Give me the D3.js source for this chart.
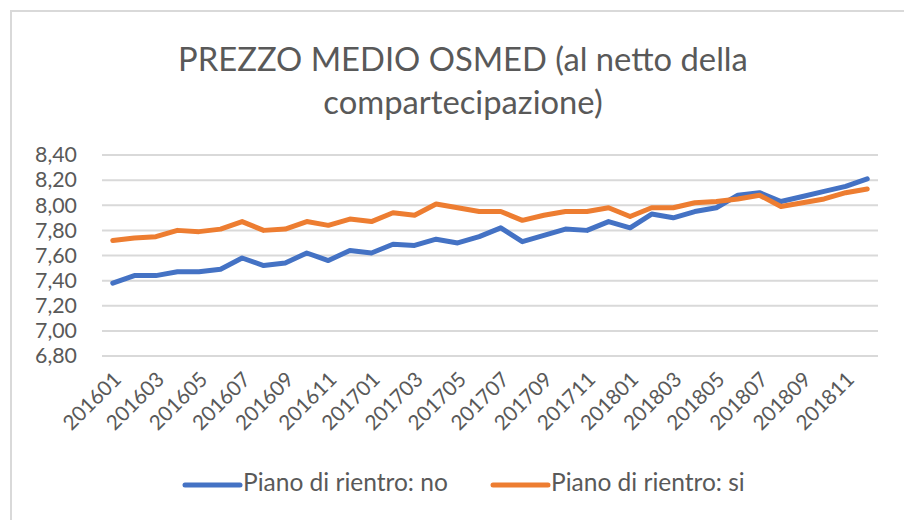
<!DOCTYPE html>
<html>
<head>
<meta charset="utf-8">
<script src="https://cdn.jsdelivr.net/npm/d3@7"></script>
<style>
  html, body { margin: 0; padding: 0; background: #fff; }
  svg { display: block; }
  text { font-family: Lato, "Open Sans", sans-serif; fill: #595959; }
</style>
</head>
<body>
<svg id="chart" width="904" height="520"></svg>
<script>
const months = [
  "201601","201602","201603","201604","201605","201606","201607","201608","201609","201610","201611","201612",
  "201701","201702","201703","201704","201705","201706","201707","201708","201709","201710","201711","201712",
  "201801","201802","201803","201804","201805","201806","201807","201808","201809","201810","201811","201812"
];
const pianoNo = [
  7.38, 7.44, 7.44, 7.47, 7.47, 7.49, 7.58, 7.52, 7.54, 7.62, 7.56, 7.64,
  7.62, 7.69, 7.68, 7.73, 7.70, 7.75, 7.82, 7.71, 7.76, 7.81, 7.80, 7.87,
  7.82, 7.93, 7.90, 7.95, 7.98, 8.08, 8.10, 8.03, 8.07, 8.11, 8.15, 8.21
];
const pianoSi = [
  7.72, 7.74, 7.75, 7.80, 7.79, 7.81, 7.87, 7.80, 7.81, 7.87, 7.84, 7.89,
  7.87, 7.94, 7.92, 8.01, 7.98, 7.95, 7.95, 7.88, 7.92, 7.95, 7.95, 7.98,
  7.91, 7.98, 7.98, 8.02, 8.03, 8.05, 8.08, 7.99, 8.02, 8.05, 8.10, 8.13
];
const yTicks = [6.8, 7.0, 7.2, 7.4, 7.6, 7.8, 8.0, 8.2, 8.4];
const seriesNames = ["Piano di rientro: no", "Piano di rientro: si"];
const seriesColors = ["#4472C4", "#ED7D31"];
const titleLines = ["PREZZO MEDIO OSMED (al netto della", "compartecipazione)"];

const svg = d3.select("#chart");

function fitSize(text, base, target) {
  const t = svg.append("text").style("font-size", base + "px").text(text);
  const w = t.node().getComputedTextLength();
  t.remove();
  return base * target / w;
}

// outer frame (top and left edges visible)
svg.append("path")
  .attr("d", "M11,520 L11,11 L904,11")
  .attr("fill", "none")
  .attr("stroke", "#d9d9d9")
  .attr("stroke-width", 2);

// title
const titleSize = fitSize(titleLines[0], 30, 570);
svg.append("g").selectAll("text").data(titleLines).join("text")
  .attr("x", 463)
  .attr("y", (d, i) => 71 + i * 43)
  .attr("text-anchor", "middle")
  .style("font-size", titleSize + "px")
  .text(d => d);

const x = d3.scaleBand().domain(months).range([102, 878]);
const y = d3.scaleLinear().domain([6.8, 8.4]).range([356, 155]);

// gridlines
svg.append("g").selectAll("line").data(yTicks).join("line")
  .attr("x1", 102).attr("x2", 878)
  .attr("y1", d => y(d)).attr("y2", d => y(d))
  .attr("stroke", "#d9d9d9").attr("stroke-width", 2);

// y axis labels
const fmt = d => d3.format(".2f")(d).replace(".", ",");
const ySize = fitSize("8,40", 20, 42);
const yAxis = d3.axisLeft(y).tickValues(yTicks).tickFormat(fmt).tickSize(0).tickPadding(0);
const gy = svg.append("g").attr("transform", "translate(77,0)").call(yAxis);
gy.select(".domain").remove();
gy.selectAll("text").style("font-size", ySize + "px").style("font-family", "Lato").attr("fill", "#595959");

// x axis labels
const xSize = fitSize("201601", 20, 72);
const xAxis = d3.axisBottom(x).tickValues(months.filter((d, i) => i % 2 === 0)).tickSize(0).tickPadding(0);
const gx = svg.append("g").attr("transform", "translate(0,356)").call(xAxis);
gx.select(".domain").remove();
gx.selectAll("text")
  .style("font-size", xSize + "px").style("font-family", "Lato").attr("fill", "#595959")
  .attr("text-anchor", "end")
  .attr("dy", null)
  .attr("y", 0)
  .attr("transform", "translate(6,21) rotate(-45)")
  .attr("dominant-baseline", "middle");

// lines
const line = d3.line().x((d, i) => x(months[i]) + x.bandwidth() / 2).y(d => y(d));
[pianoNo, pianoSi].forEach((s, k) => {
  svg.append("path")
    .datum(s)
    .attr("d", line)
    .attr("fill", "none")
    .attr("stroke", seriesColors[k])
    .attr("stroke-width", 5)
    .attr("stroke-linejoin", "round")
    .attr("stroke-linecap", "round");
});

// legend
const legX = [185, 493];
const legSize = fitSize(seriesNames[0], 20, 205);
const leg = svg.append("g").selectAll("g").data(seriesNames).join("g");
leg.append("line")
  .attr("x1", (d, i) => legX[i]).attr("x2", (d, i) => legX[i] + 55)
  .attr("y1", 485).attr("y2", 485)
  .attr("stroke", (d, i) => seriesColors[i]).attr("stroke-width", 5)
  .attr("stroke-linecap", "round");
leg.append("text")
  .attr("x", (d, i) => legX[i] + 58)
  .attr("y", 485)
  .attr("dominant-baseline", "middle")
  .style("font-size", legSize + "px")
  .text(d => d);
</script>
</body>
</html>
